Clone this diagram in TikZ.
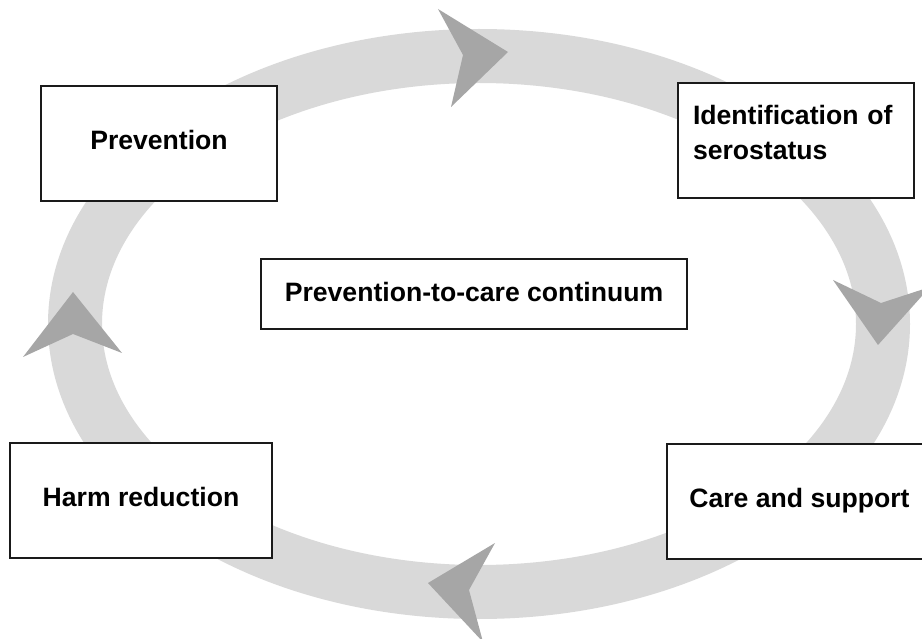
\documentclass[tikz,border=0pt]{standalone}
\usepackage{fontspec}
\setmainfont{Liberation Sans}
\definecolor{ringgray}{HTML}{D9D9D9}
\definecolor{arrgray}{HTML}{A6A6A6}
\definecolor{boxline}{HTML}{1A1A1A}
\begin{document}
\begin{tikzpicture}[x=1pt,y=-1pt,
  box/.style={draw=boxline, line width=1.3pt, fill=white, rectangle, inner sep=0pt,
    text=black, font=\fontsize{26.6}{34.5}\selectfont\bfseries, text depth=0pt},
  chevron/.style={fill=arrgray}]
\useasboundingbox (0,0) rectangle (922,639);
\clip (0,0) rectangle (922,639);
\fill[white] (0,0) rectangle (922,639);
% ring
\draw[ringgray, line width=54pt] (479,324) ellipse [x radius=404pt, y radius=268pt];
% arrowheads
\fill[chevron] (438,9) -- (508,52) -- (451,107) -- (463,55) -- cycle;
\fill[chevron] (833,280) -- (881,303) -- (930,287) -- (878,345) -- cycle;
\fill[chevron] (495,543) -- (428,583) -- (483,642) -- (469,590) -- cycle;
\fill[chevron] (23,357) -- (73,292) -- (122,353) -- (73,334) -- cycle;
% boxes
\node[box, minimum width=236pt, minimum height=115pt, text height=13pt] (prev) at (159,143.5) {Prevention};
\node[box, minimum width=236pt, minimum height=115pt, align=left, text width=206pt,
      text height=5pt, text depth=36pt] (ident) at (796,140.5) {Identification of\\serostatus};
\node[box, minimum width=426pt, minimum height=70pt, text height=15.4pt] (cont) at (474,294) {Prevention-to-care continuum};
\node[box, minimum width=262pt, minimum height=115pt, text height=11pt] (harm) at (141,500.5) {Harm reduction};
\node[box, minimum width=265pt, minimum height=115pt, text height=11pt] (care) at (799.5,501.5) {Care and support};
\end{tikzpicture}
\end{document}
